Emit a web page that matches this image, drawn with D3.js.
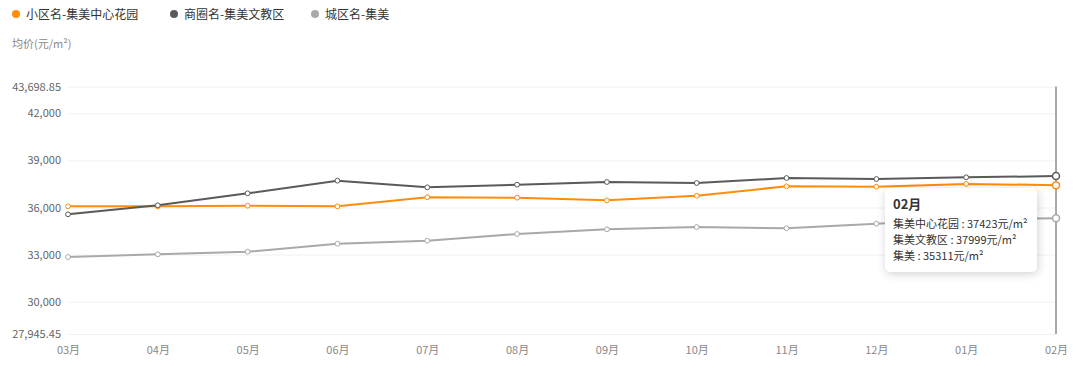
<!DOCTYPE html>
<html lang="zh">
<head>
  <meta charset="UTF-8">
  <title>均价走势</title>
  <script src="https://d3js.org/d3.v7.min.js"></script>
  <style>
    body { margin: 0; background: #fff; font-family: "Noto Sans CJK SC", "Noto Sans", sans-serif; }
    #chart { position: relative; width: 1080px; height: 374px; }
    .tooltip {
      position: absolute;
      background: #fff;
      border-radius: 5px;
      box-shadow: 1px 2px 10px rgba(0, 0, 0, 0.18);
      padding: 8px 9px 9px 8px;
      font-size: 11px;
      color: #333;
      line-height: 16px;
      white-space: nowrap;
    }
    .tooltip strong { font-size: 13px; display: block; margin-bottom: 3px; }
  </style>
</head>
<body>
  <div id="chart"></div>

  <script>
    const months = ["03月", "04月", "05月", "06月", "07月", "08月", "09月", "10月", "11月", "12月", "01月", "02月"];
    const gardenValues = [36076, 36076, 36114, 36076, 36650, 36624, 36458, 36751, 37350, 37325, 37500, 37423];
    const districtValues = [35567, 36140, 36904, 37707, 37285, 37452, 37624, 37560, 37878, 37815, 37923, 37999];
    const cityValues = [32847, 33019, 33185, 33694, 33885, 34312, 34611, 34758, 34675, 34968, 35250, 35311];
    const yMin = 27945.45, yMax = 43698.85;
    const yTicks = [27945.45, 30000, 33000, 36000, 39000, 42000, 43698.85];

    const series = [
      { name: "小区名-集美中心花园", short: "集美中心花园", color: "#ff8c0a", values: gardenValues },
      { name: "商圈名-集美文教区", short: "集美文教区", color: "#5a5a5a", values: districtValues },
      { name: "城区名-集美", short: "集美", color: "#a9a9a9", values: cityValues }
    ];

    const width = 1080, height = 374;
    const svg = d3.select("#chart").append("svg")
      .attr("width", width)
      .attr("height", height);

    const x = d3.scalePoint().domain(months).range([68, 1056]);
    const y = d3.scaleLinear().domain([yMin, yMax]).range([334, 86.6]);

    // legend
    const legendX = [16, 174, 315];
    const legend = svg.append("g");
    series.forEach((s, i) => {
      legend.append("circle").attr("cx", legendX[i]).attr("cy", 14).attr("r", 4).attr("fill", s.color);
      legend.append("text").attr("x", legendX[i] + 10).attr("y", 18.5)
        .attr("font-size", 12).attr("fill", "#333").text(s.name);
    });

    svg.append("text").attr("x", 12).attr("y", 48)
      .attr("font-size", 11).attr("fill", "#888").text("均价(元/m²)");

    // grid + y labels
    const fmt = v => Number.isInteger(v) ? d3.format(",")(v) : d3.format(",.2f")(v);
    const yAxis = svg.append("g")
      .attr("transform", "translate(68,0)")
      .call(d3.axisLeft(y).tickValues(yTicks).tickFormat(fmt).tickSize(-(1056 - 68)).tickPadding(7));
    yAxis.select(".domain").remove();
    yAxis.selectAll(".tick line").attr("stroke", "#f0f0f0");
    yAxis.selectAll(".tick text").attr("fill", "#666").attr("font-size", 11)
      .attr("font-family", "'Noto Sans CJK SC', sans-serif");

    // x labels
    const xAxis = svg.append("g")
      .attr("transform", "translate(0,334)")
      .call(d3.axisBottom(x).tickSize(0).tickPadding(12));
    xAxis.select(".domain").remove();
    xAxis.selectAll(".tick text").attr("fill", "#888").attr("font-size", 11)
      .attr("font-family", "'Noto Sans CJK SC', sans-serif");

    // axis pointer on the last month
    const last = months[months.length - 1];
    svg.append("line")
      .attr("x1", x(last)).attr("x2", x(last))
      .attr("y1", y(yMax)).attr("y2", 334)
      .attr("stroke", "#aaa").attr("stroke-width", 2);

    const line = d3.line().x((d, i) => x(months[i])).y(d => y(d));

    series.forEach(s => {
      svg.append("path").datum(s.values)
        .attr("fill", "none").attr("stroke", s.color).attr("stroke-width", 2).attr("d", line);
      svg.selectAll(null).data(s.values).enter().append("circle")
        .attr("cx", (d, i) => x(months[i]))
        .attr("cy", d => y(d))
        .attr("r", (d, i) => i === months.length - 1 ? 3.5 : 2.4)
        .attr("fill", "#fff")
        .attr("stroke", s.color)
        .attr("stroke-width", (d, i) => i === months.length - 1 ? 1.5 : 1);
    });

    // tooltip for the last month
    const lastIdx = months.length - 1;
    d3.select("#chart").append("div")
      .attr("class", "tooltip")
      .style("left", "885px").style("top", "188px")
      .html(`<strong>${last}</strong>` + series.map(s => `${s.short} : ${s.values[lastIdx]}元/m²`).join("<br>"));
  </script>
</body>
</html>
